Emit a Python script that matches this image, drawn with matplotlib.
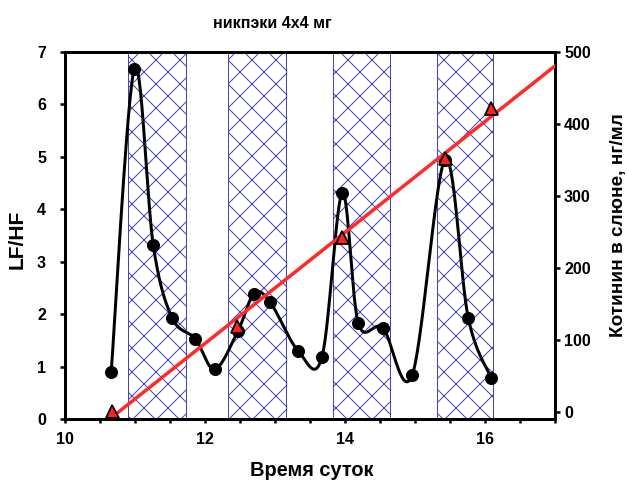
import numpy as np
import matplotlib
matplotlib.use("Agg")
import matplotlib.pyplot as plt
from matplotlib.ticker import MultipleLocator

plt.rcParams['font.family'] = ['Liberation Sans', 'DejaVu Sans']
plt.rcParams['font.weight'] = 'bold'
plt.rcParams['hatch.linewidth'] = 1.0

# LF/HF ratio over the day
hours = [10.66, 10.99, 11.26, 11.53, 11.86, 12.14, 12.47, 12.70, 12.93,
         13.33, 13.67, 13.96, 14.19, 14.54, 14.96, 15.43, 15.76, 16.09]
lfhf = [0.90, 6.68, 3.32, 1.93, 1.53, 0.95, 1.68, 2.39, 2.23,
        1.30, 1.18, 4.31, 1.83, 1.74, 0.84, 4.95, 1.93, 0.78]

# cotinine in saliva
cot_hours = [10.67, 12.46, 13.96, 15.43, 16.09]
cotinine = [2, 120, 243, 353, 422]

# hatched periods
bands = [(10.90, 11.73), (12.33, 13.16), (13.83, 14.64), (15.31, 16.11)]


def smooth(x, y, n=30):
    """Excel-like smoothed line (cubic Bezier, Catmull-Rom tangents)."""
    p = np.column_stack([x, y]).astype(float)
    out = [p[0]]
    t = np.linspace(0, 1, n)[1:, None]
    for i in range(len(p) - 1):
        p0 = p[i - 1] if i > 0 else p[i]
        p3 = p[i + 2] if i + 2 < len(p) else p[i + 1]
        c1 = p[i] + (p[i + 1] - p0) / 6
        c2 = p[i + 1] - (p3 - p[i]) / 6
        seg = ((1 - t) ** 3 * p[i] + 3 * (1 - t) ** 2 * t * c1
               + 3 * (1 - t) * t ** 2 * c2 + t ** 3 * p[i + 1])
        out.extend(seg)
    out = np.array(out)
    return out[:, 0], out[:, 1]


fig = plt.figure(figsize=(627 / 72, 482 / 72), dpi=72)
ax = fig.add_axes([0.1037, 0.1307, 0.7815, 0.7613])
ax2 = ax.twinx()

blue = '#4444b8'
for x0, x1 in bands:
    ax.axvspan(x0, x1, facecolor='white', edgecolor=blue, hatch='x', lw=1.0, zorder=1)

sx, sy = smooth(hours, lfhf)
ax.plot(sx, sy, color='black', lw=3, zorder=3)
ax.plot(hours, lfhf, 'o', color='black', ms=12, zorder=4)

# linear trend of cotinine
k, b = np.polyfit(cot_hours, cotinine, 1)
tx = np.array([cot_hours[0], 17])
ax2.plot(tx, k * tx + b, color='#ff2a2a', lw=3.5, zorder=3)
ax2.plot(cot_hours, cotinine, '^', color='#ff2020', mec='black', mew=1.8, ms=13, zorder=4)

ax.set_xlim(10, 17)
ax.set_ylim(0, 7)
ax2.set_ylim(-9.7, 500)

ax.set_xticks([10, 12, 14, 16])
ax.xaxis.set_minor_locator(MultipleLocator(0.5))
ax.set_yticks(range(8))
ax2.set_yticks(range(0, 501, 100))

for a in (ax, ax2):
    for s in a.spines.values():
        s.set_linewidth(3)
    a.tick_params(which='both', direction='out', width=2.5, length=5, labelsize=16)
ax.tick_params(axis='x', which='both', length=4, pad=9)
ax.tick_params(axis='y', pad=14)
ax2.tick_params(axis='y', pad=4)

ax.set_xlabel('Время суток', fontsize=20, fontweight='bold')
ax.xaxis.set_label_coords(0.504, -0.115)
ax.set_ylabel('LF/HF', fontsize=21, fontweight='bold')
ax.yaxis.set_label_coords(-0.078, 0.49)
ax2.set_ylabel('Котинин в слюне, нг/мл', fontsize=19, fontweight='bold')
ax2.yaxis.set_label_coords(1.112, 0.528)
ax.set_title('никпэки 4x4 мг', fontsize=16, fontweight='bold', x=0.424, y=1.065, pad=0)

fig.savefig('out.png', dpi=72)
